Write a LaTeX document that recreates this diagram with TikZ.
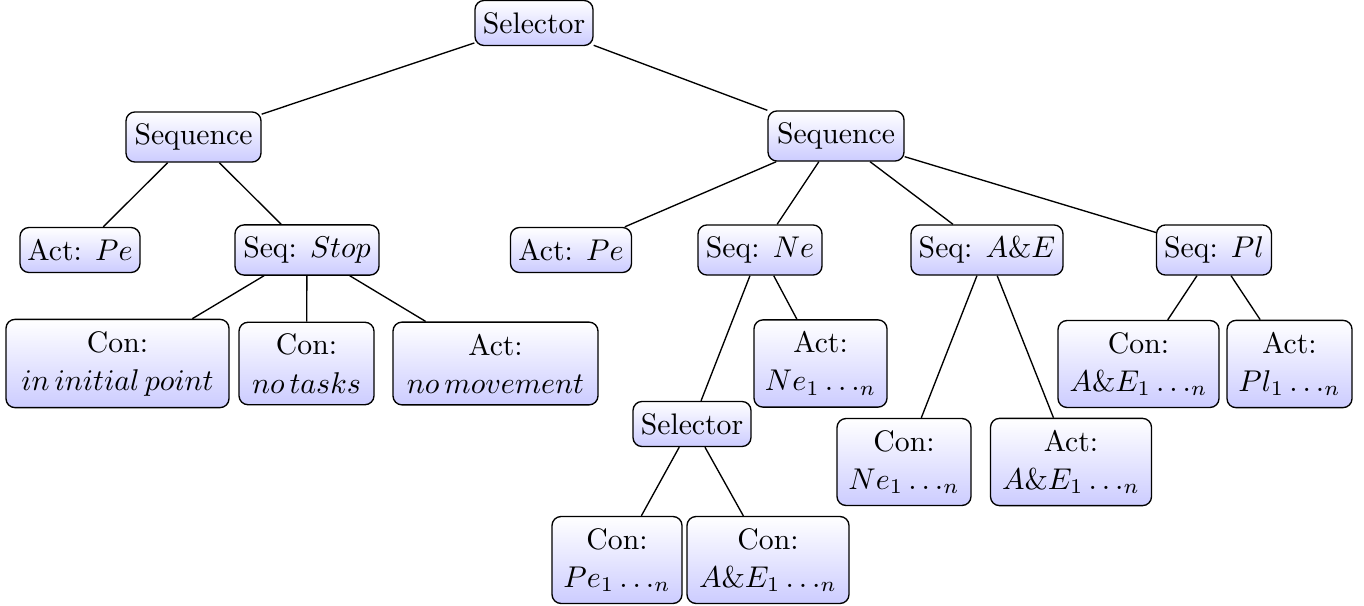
\documentclass[tikz,border=0pt]{standalone}
\newcommand\mx[1]{{\fontsize{10.3}{12.7}\selectfont$#1$}}
\tikzset{
  bt/.style={draw=black, rounded corners=3pt, top color=white, bottom color=blue!20,
    align=center, inner xsep=2pt, inner ysep=3.9pt,
    font=\fontsize{9.9}{12.7}\selectfont, line width=0.45pt},
  wd/.style={minimum width={#1pt/3}},
  ln/.style={line width=0.45pt}
}
\begin{document}
\begin{tikzpicture}[x={(0.33333pt,0)}, y={(0,-0.33333pt)}]
\useasboundingbox (0,0) rectangle (1364,606);
% level 0
\node[bt,wd=118] (sel0) at (534,23) {Selector};
% level 1
\node[bt,wd=135] (seqL) at (193.5,137) {Sequence};
\node[bt,wd=136] (seqR) at (836,136) {Sequence};
% level 2
\node[bt,wd=120] (actPeL) at (80,250) {Act: \mx{Pe}};
\node[bt,wd=144] (seqStop) at (307,250) {Seq: \mx{Stop}};
\node[bt,wd=121] (actPeR) at (571,250) {Act: \mx{Pe}};
\node[bt,wd=124] (seqNe) at (760,250) {Seq: \mx{Ne}};
\node[bt,wd=152] (seqAE) at (987,250) {Seq: \mx{A\&E}};
\node[bt,wd=115] (seqPl) at (1214,250) {Seq: \mx{Pl}};
% level 3
\node[bt,wd=223] (conInit) at (117.5,363.5) {Con:\\ \mx{in\,initial\,point}};
\node[bt,wd=135] (conNoTasks) at (306.5,363.5) {Con:\\ \mx{no\,tasks}};
\node[bt,wd=205] (actNoMove) at (495.5,363.5) {Act:\\ \mx{no\,movement}};
\node[bt,wd=133] (actNe) at (820.5,363.5) {Act:\\ \mx{Ne_1\ldots_n}};
\node[bt,wd=161] (conAE) at (1138.5,364) {Con:\\ \mx{A\&E_1\ldots_n}};
\node[bt,wd=125] (actPl) at (1289.5,364) {Act:\\ \mx{Pl_1\ldots_n}};
% lower
\node[bt,wd=118] (sel1) at (692,424) {Selector};
\node[bt,wd=134] (conNe) at (904,462) {Con:\\ \mx{Ne_1\ldots_n}};
\node[bt,wd=161] (actAE) at (1071,462) {Act:\\ \mx{A\&E_1\ldots_n}};
\node[bt,wd=130] (conPe) at (617,560) {Con:\\ \mx{Pe_1\ldots_n}};
\node[bt,wd=162] (conAE2) at (768,560) {Con:\\ \mx{A\&E_1\ldots_n}};
% connectors
\draw[ln] (sel0) -- (seqL);
\draw[ln] (sel0) -- (seqR);
\draw[ln] (seqL) -- (actPeL);
\draw[ln] (seqL) -- (seqStop);
\draw[ln] (seqStop) -- (conInit);
\draw[ln] (seqStop) -- (conNoTasks);
\draw[ln] (seqStop) -- (actNoMove);
\draw[ln] (seqR) -- (actPeR);
\draw[ln] (seqR) -- (seqNe);
\draw[ln] (seqR) -- (seqAE);
\draw[ln] (seqR) -- (seqPl);
\draw[ln] (seqNe) -- (sel1);
\draw[ln] (seqNe) -- (actNe);
\draw[ln] (sel1) -- (conPe);
\draw[ln] (sel1) -- (conAE2);
\draw[ln] (seqAE) -- (conNe);
\draw[ln] (seqAE) -- (actAE);
\draw[ln] (seqPl) -- (conAE);
\draw[ln] (seqPl) -- (actPl);
\end{tikzpicture}
\end{document}
